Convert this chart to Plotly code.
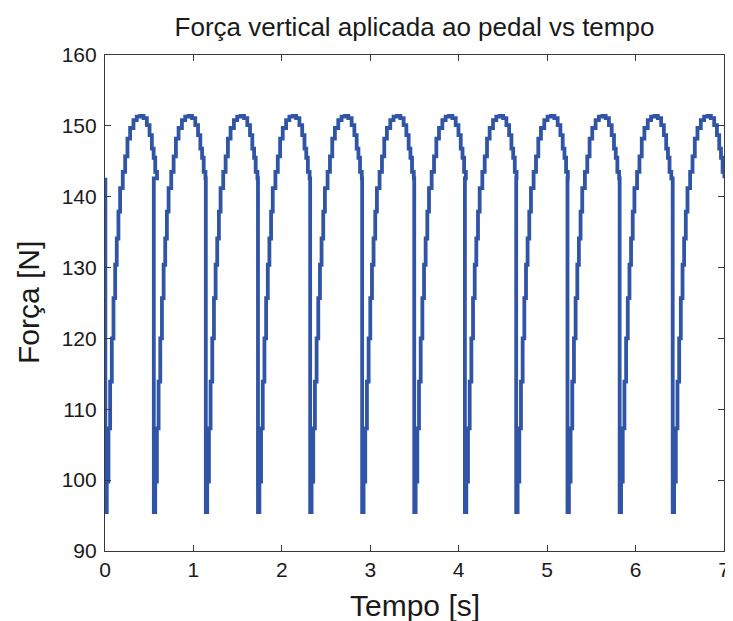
import plotly.graph_objects as go

# instants where the force drops to its minimum (start of each pedal cycle) [s]
drop_times = [0.004, 0.552, 1.140, 1.730, 2.320, 2.908, 3.497, 4.070, 4.650, 5.230, 5.820, 6.420]

# one cycle of the force: time after the drop [s] and force [N]
cycle_dt = [0.000, 0.016, 0.035, 0.054, 0.073, 0.092, 0.111, 0.129, 0.148, 0.167,
            0.197, 0.224, 0.250, 0.280, 0.318, 0.355, 0.394, 0.432, 0.469, 0.500,
            0.526, 0.546, 0.564, 0.584]
cycle_force = [95.5, 99.8, 107.3, 113.9, 120.0, 125.7, 130.4, 134.1, 137.9, 141.2,
               143.5, 145.7, 148.2, 149.7, 150.8, 151.3, 151.4, 151.1, 150.1, 148.7,
               146.8, 145.5, 143.5, 142.6]

start_force = 142.4

t = [0.0]
f = [start_force]
for td in drop_times:
    for dt, val in zip(cycle_dt, cycle_force):
        t.append(td + dt)
        f.append(val)

FONT = 'Liberation Sans, Arial, sans-serif'
TXT = '#1a1a1a'

fig = go.Figure()
fig.add_trace(go.Scatter(
    x=t, y=f, mode='lines',
    line=dict(color='#3055a6', width=3.8, shape='hv'),
    showlegend=False,
))

axis_style = dict(
    showline=True, mirror='ticks', linecolor='#3a3a3a', linewidth=1.2,
    ticks='inside', ticklen=6, tickcolor='#3a3a3a', tickwidth=1,
    showgrid=False, zeroline=False, automargin=False,
    tickfont=dict(size=21, color=TXT, family=FONT),
)

# the page puts the figure 8 px in from the top-left corner
fig.update_layout(
    width=725, height=613,
    margin=dict(l=97, r=9, t=47, b=70),
    paper_bgcolor='white', plot_bgcolor='white',
    font=dict(family=FONT, color=TXT),
    title=dict(text='Força vertical aplicada ao pedal vs tempo', xref='paper', x=0.5,
               xanchor='center', y=0.969, yanchor='middle', font=dict(size=26)),
    xaxis=dict(range=[0, 7], dtick=1, tick0=0, **axis_style),
    yaxis=dict(range=[90, 160], dtick=10, tick0=90, ticklabelstandoff=3, **axis_style),
    annotations=[
        dict(text='Tempo [s]', xref='paper', yref='paper', x=0.5, y=0,
             xanchor='center', yanchor='middle', yshift=-54, showarrow=False,
             font=dict(size=30)),
        dict(text='Força [N]', xref='paper', yref='paper', x=0, y=0.5,
             xanchor='center', yanchor='middle', xshift=-77, textangle=-90,
             showarrow=False, font=dict(size=30)),
    ],
)

fig.write_html("out.html")
